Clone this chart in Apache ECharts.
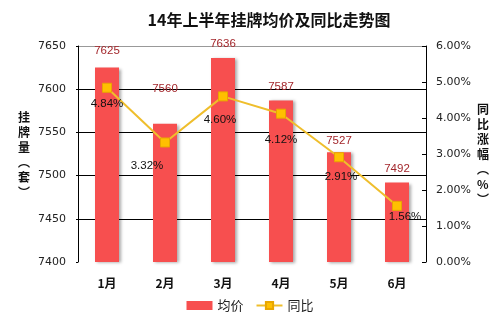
<!DOCTYPE html>
<html>
<head>
<meta charset="utf-8">
<script src="https://cdn.jsdelivr.net/npm/echarts@6/dist/echarts.min.js"></script>
<style>
  html, body { margin: 0; padding: 0; background: #fff; }
  #chart { width: 500px; height: 324px; }
</style>
</head>
<body>
<div id="chart"></div>
<script>
// Monthly listing price and year-on-year change, first half of 2014
const months = ['1月', '2月', '3月', '4月', '5月', '6月'];
const avgPrice = [7625, 7560, 7636, 7587, 7527, 7492];
const yoyPct = [4.84, 3.32, 4.60, 4.12, 2.91, 1.56];
const priceTicks = { min: 7400, max: 7650, step: 50 };
const pctTicks = { min: 0, max: 6, step: 1 };

const CJK = '"Noto Sans CJK SC", sans-serif';
const NUM = '"DejaVu Sans", sans-serif';
const LBL = '"Liberation Sans", Arial, sans-serif';

// label nudges so value tags stay clear of the trend line
const barLabelLift = { 0: 11, 1: 29, 4: 5 };
const lineLabelShift = { 0: [0, 3], 1: [-18, 10], 2: [-3, 10], 3: [0, 13], 4: [2, 7], 5: [8, -2] };

const chart = echarts.init(document.getElementById('chart'), null, { renderer: 'canvas' });

chart.setOption({
  backgroundColor: '#ffffff',
  animation: false,
  title: {
    text: '14年上半年挂牌均价及同比走势图',
    left: 264,
    top: 7,
    textAlign: 'center',
    textStyle: { fontFamily: CJK, fontSize: 16, fontWeight: 'bold', color: '#111' }
  },
  grid: { left: 78, right: 74, top: 46, bottom: 62, containLabel: false },
  legend: {
    left: 'center',
    top: 294,
    itemGap: 12,
    itemWidth: 26,
    itemHeight: 9,
    textStyle: { fontFamily: CJK, fontSize: 13, color: '#222' },
    data: [
      { name: '均价', icon: 'rect' },
      { name: '同比' }
    ]
  },
  xAxis: {
    type: 'category',
    data: months,
    axisLine: { show: false },
    axisTick: { show: false },
    axisLabel: { margin: 15, fontFamily: CJK, fontSize: 12, fontWeight: 'bold', color: '#111' }
  },
  yAxis: [
    {
      type: 'value',
      min: priceTicks.min,
      max: priceTicks.max,
      interval: priceTicks.step,
      axisLine: { show: true, lineStyle: { color: '#000', width: 1 } },
      axisTick: { show: true, inside: false, length: 2, lineStyle: { color: '#000' } },
      axisLabel: { margin: 12, fontFamily: NUM, fontSize: 11, color: '#222', formatter: v => String(v) },
      splitLine: {
        show: true,
        lineStyle: { color: ['transparent', '#000', '#000', '#000', '#000', '#999'], width: 1 }
      }
    },
    {
      type: 'value',
      min: pctTicks.min,
      max: pctTicks.max,
      interval: pctTicks.step,
      position: 'right',
      axisLine: { show: true, lineStyle: { color: '#000', width: 1 } },
      axisTick: { show: true, inside: true, length: 4, lineStyle: { color: '#000' } },
      axisLabel: {
        margin: 10,
        fontFamily: NUM,
        fontSize: 11,
        color: '#222',
        formatter: v => v.toFixed(2) + '%'
      },
      splitLine: { show: false }
    }
  ],
  graphic: [
    {
      type: 'text',
      left: 18,
      top: 110,
      style: {
        text: ['挂', '牌', '量', '︵', '套', '︶'].join('\n'),
        font: 'bold 12px ' + CJK,
        lineHeight: 15,
        fill: '#111',
        align: 'center'
      }
    },
    {
      type: 'text',
      left: 477,
      top: 102,
      style: {
        text: ['同', '比', '涨', '幅', '︵', '%', '︶'].join('\n'),
        font: 'bold 12px ' + CJK,
        lineHeight: 15,
        fill: '#111',
        align: 'center'
      }
    }
  ],
  series: [
    {
      name: '均价',
      type: 'bar',
      yAxisIndex: 0,
      barWidth: 24,
      data: avgPrice.map((v, i) => ({
        value: v,
        label: { distance: barLabelLift[i] !== undefined ? barLabelLift[i] : 8 }
      })),
      itemStyle: {
        color: '#f74f4f',
        shadowColor: 'rgba(0,0,0,0.35)',
        shadowBlur: 3,
        shadowOffsetX: 2,
        shadowOffsetY: 1
      },
      label: {
        show: true,
        position: 'top',
        fontFamily: LBL,
        fontSize: 11.5,
        color: '#a3262b'
      },
      z: 2
    },
    {
      name: '同比',
      type: 'line',
      yAxisIndex: 1,
      data: yoyPct.map((v, i) => ({
        value: v,
        label: { offset: lineLabelShift[i] }
      })),
      symbol: 'rect',
      symbolSize: 9,
      lineStyle: { color: '#efbe2c', width: 2 },
      itemStyle: { color: '#ffc000', borderColor: '#e8a600', borderWidth: 1 },
      label: {
        show: true,
        position: 'bottom',
        distance: 2,
        fontFamily: LBL,
        fontSize: 11.5,
        color: '#111',
        formatter: p => p.value.toFixed(2) + '%'
      },
      z: 5
    }
  ]
});
</script>
</body>
</html>
